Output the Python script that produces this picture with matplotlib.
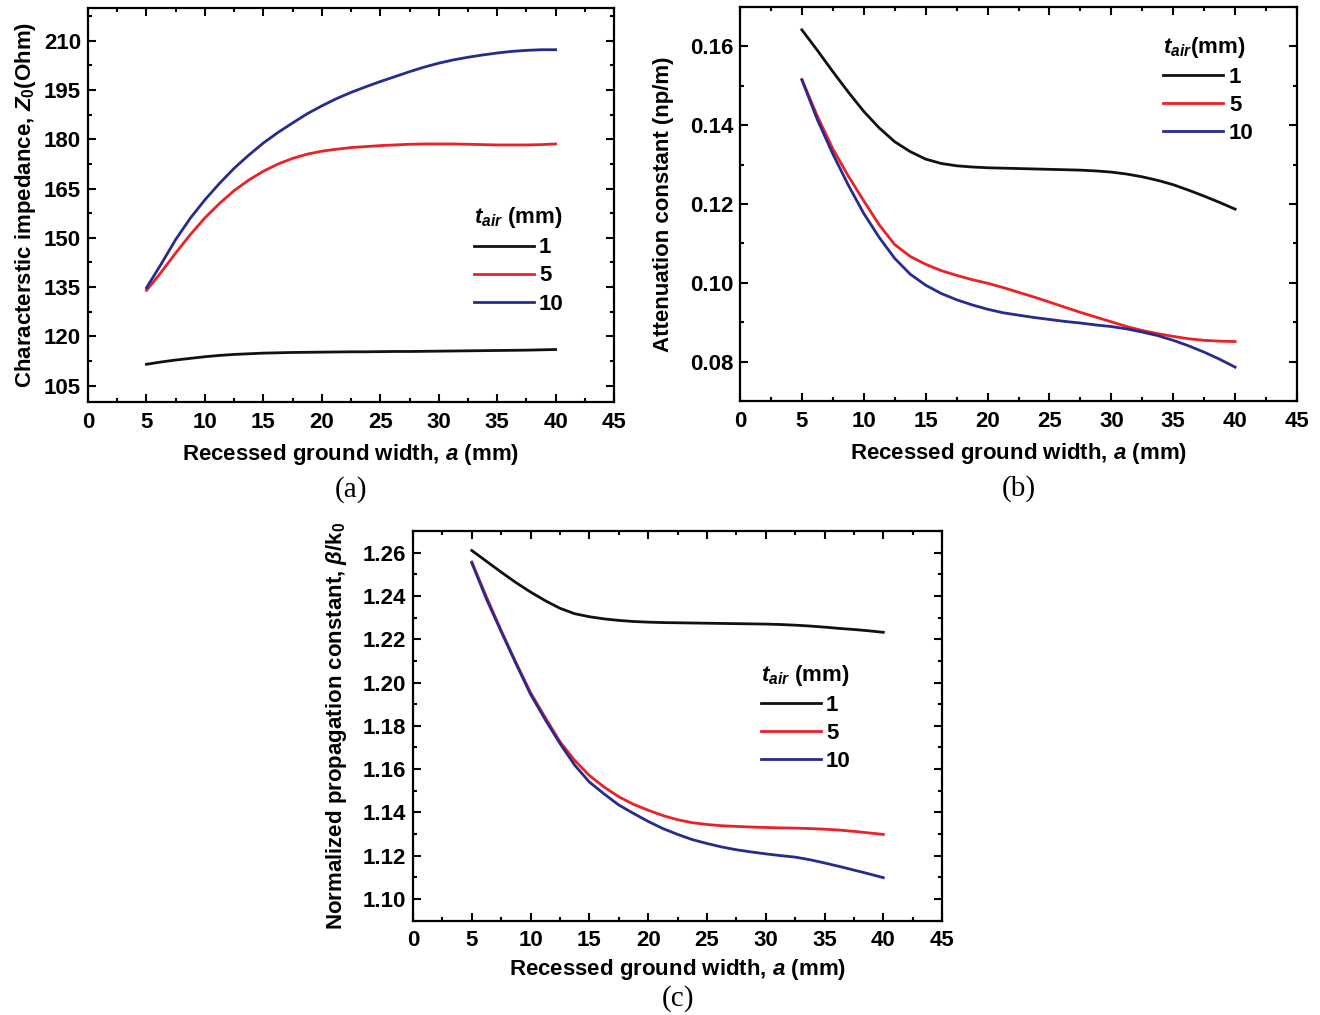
import matplotlib
matplotlib.use('Agg')
import matplotlib.pyplot as plt
from matplotlib.ticker import MultipleLocator, FormatStrFormatter

plt.rcParams['font.family'] = ['Liberation Sans', 'DejaVu Sans']
plt.rcParams['font.weight'] = 'bold'
plt.rcParams['axes.labelweight'] = 'bold'
plt.rcParams['mathtext.fontset'] = 'custom'
plt.rcParams['mathtext.rm'] = 'Liberation Sans:bold'
plt.rcParams['mathtext.it'] = 'Liberation Sans:bold:italic'
plt.rcParams['mathtext.bf'] = 'Liberation Sans:bold'

# recessed ground width a (mm)
a = [5, 6.25, 7.5, 8.75, 10, 11.25, 12.5, 13.75, 15, 16.25, 17.5, 18.75, 20, 21.25,
     22.5, 23.75, 25, 26.25, 27.5, 28.75, 30, 31.25, 32.5, 33.75, 35, 36.25, 37.5,
     38.75, 40]
t_air = ['1', '5', '10']

# (a) characteristic impedance, Ohm
z0_t1 = [111.5, 112.2, 112.8, 113.3, 113.8, 114.2, 114.5, 114.7, 114.9, 115.0,
         115.1, 115.15, 115.2, 115.25, 115.3, 115.3, 115.35, 115.4, 115.4, 115.45,
         115.5, 115.55, 115.6, 115.65, 115.7, 115.75, 115.8, 115.9, 116.0]
z0_t5 = [134.0, 139.5, 145.4, 151.0, 156.1, 160.5, 164.4, 167.6, 170.3, 172.5,
         174.2, 175.5, 176.4, 177.0, 177.5, 177.8, 178.1, 178.3, 178.5, 178.6,
         178.6, 178.6, 178.5, 178.4, 178.3, 178.3, 178.3, 178.4, 178.6]
z0_t10 = [134.8, 142.0, 149.5, 156.0, 161.6, 166.6, 171.2, 175.2, 178.9, 182.1,
          185.0, 187.8, 190.2, 192.4, 194.3, 196.0, 197.6, 199.1, 200.6, 202.0,
          203.2, 204.2, 205.0, 205.7, 206.3, 206.8, 207.1, 207.3, 207.3]

# (b) attenuation constant
att_t1 = [0.1642, 0.1590, 0.1536, 0.1484, 0.1435, 0.1393, 0.1358, 0.1333, 0.1314,
          0.1303, 0.1297, 0.1294, 0.1292, 0.1291, 0.1290, 0.1289, 0.1288, 0.1287,
          0.1286, 0.1284, 0.1281, 0.1276, 0.1269, 0.1260, 0.1249, 0.1235, 0.1220,
          0.1204, 0.1187]
att_t5 = [0.1516, 0.1423, 0.1340, 0.1271, 0.1208, 0.1147, 0.1097, 0.1067, 0.1047,
          0.1031, 0.1019, 0.1008, 0.0999, 0.0988, 0.0976, 0.0964, 0.0951, 0.0938,
          0.0925, 0.0913, 0.0901, 0.0889, 0.0879, 0.0871, 0.0864, 0.0858, 0.0854,
          0.0852, 0.0851]
att_t10 = [0.1515, 0.1414, 0.1327, 0.1248, 0.1176, 0.1115, 0.1062, 0.1022, 0.0994,
           0.0973, 0.0957, 0.0944, 0.0933, 0.0924, 0.0918, 0.0912, 0.0907, 0.0902,
           0.0898, 0.0893, 0.0889, 0.0883, 0.0875, 0.0866, 0.0854, 0.0840, 0.0824,
           0.0806, 0.0786]

# (c) normalized propagation constant
beta_t1 = [1.2610, 1.2560, 1.2510, 1.2462, 1.2418, 1.2378, 1.2343, 1.2318, 1.2304,
           1.2294, 1.2287, 1.2282, 1.2279, 1.2277, 1.2276, 1.2275, 1.2274, 1.2273,
           1.2272, 1.2271, 1.2270, 1.2268, 1.2265, 1.2261, 1.2256, 1.2250, 1.2245,
           1.2239, 1.2232]
beta_t5 = [1.2557, 1.2395, 1.2240, 1.2093, 1.1953, 1.1838, 1.1726, 1.1640, 1.1570,
           1.1517, 1.1472, 1.1437, 1.1410, 1.1385, 1.1366, 1.1352, 1.1344, 1.1338,
           1.1335, 1.1332, 1.1330, 1.1328, 1.1327, 1.1325, 1.1322, 1.1318, 1.1312,
           1.1305, 1.1298]
beta_t10 = [1.2553, 1.2385, 1.2235, 1.2088, 1.1945, 1.1828, 1.1718, 1.1618, 1.1540,
            1.1485, 1.1434, 1.1395, 1.1358, 1.1325, 1.1298, 1.1274, 1.1256, 1.1240,
            1.1227, 1.1217, 1.1208, 1.1200, 1.1193, 1.1181, 1.1166, 1.1150, 1.1133,
            1.1116, 1.1098]

colors = ['#111111', '#ec2127', '#272b8e']

fig = plt.figure(figsize=(13.2, 10.15), dpi=100)
ax_a = fig.add_axes([0.0667, 0.6039, 0.3985, 0.3882])
ax_b = fig.add_axes([0.5606, 0.6049, 0.4220, 0.3882])
ax_c = fig.add_axes([0.3129, 0.0931, 0.4008, 0.3837])

panels = [
    (ax_a, [z0_t1, z0_t5, z0_t10], (100, 220), 15, 7.5, '%d',
     'Characterstic impedance, $Z_0$(Ohm)', 4, (0.716, 0.522), '$t_{air}$ (mm)',
     '(a)', -0.222, 7),
    (ax_b, [att_t1, att_t5, att_t10], (0.07, 0.17), 0.02, 0.01, '%.2f',
     'Attenuation constant (np/m)', 11, (0.744, 0.952), '$t_{air}$(mm)',
     '(b)', -0.222, 7),
    (ax_c, [beta_t1, beta_t5, beta_t10], (1.09, 1.27), 0.02, 0.01, '%.2f',
     r'Normalized propagation constant, $\beta$/k$_0$', 10, (0.64, 0.685), '$t_{air}$ (mm)',
     '(c)', -0.2, 4),
]

for ax, series, ylim, ymaj, ymin, fmt, ylab, ypad, anchor, ltitle, cap, capy, xpad in panels:
    for vals, col, lab in zip(series, colors, t_air):
        ax.plot(a, vals, color=col, lw=2.0, label=lab)
    ax.set_xlim(0, 45)
    ax.set_ylim(*ylim)
    ax.xaxis.set_major_locator(MultipleLocator(5))
    ax.xaxis.set_minor_locator(MultipleLocator(2.5))
    ax.yaxis.set_major_locator(MultipleLocator(ymaj))
    ax.yaxis.set_minor_locator(MultipleLocator(ymin))
    ax.yaxis.set_major_formatter(FormatStrFormatter(fmt))
    ax.tick_params(which='both', direction='in', top=True, right=True,
                   width=1.5, labelsize=16, pad=5)
    ax.tick_params(axis='x', which='major', pad=7)
    ax.tick_params(which='major', length=5.5)
    ax.tick_params(which='minor', length=3)
    for s in ax.spines.values():
        s.set_linewidth(1.6)
    ax.set_xlabel('Recessed ground width, $a$ (mm)', fontsize=16, labelpad=xpad)
    ax.set_ylabel(ylab, fontsize=16, labelpad=ypad)
    leg = ax.legend(loc='upper left', bbox_to_anchor=anchor, frameon=False,
                    title=ltitle, fontsize=16, title_fontsize=16,
                    handlelength=2.7, handletextpad=0.25, labelspacing=0.32,
                    borderaxespad=0, alignment='left')
    ax.text(0.5, capy, cap, transform=ax.transAxes, ha='center', va='center',
            fontsize=21, fontweight='normal', family='Liberation Serif')

fig.savefig('out.png', dpi=100)
